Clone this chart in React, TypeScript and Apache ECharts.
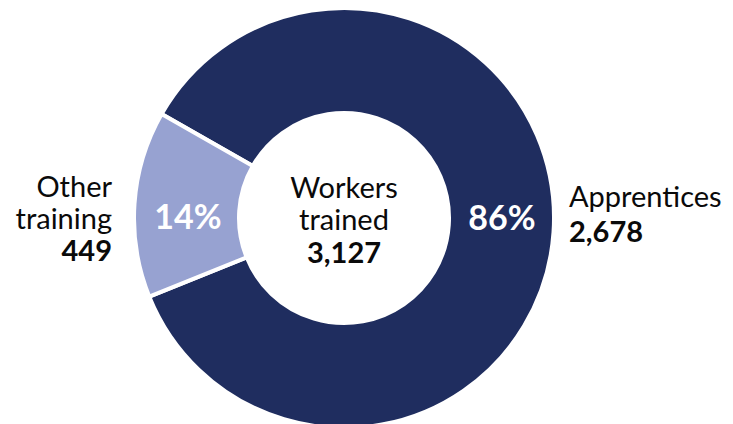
import React, { useEffect, useRef } from "react";
import * as echarts from "echarts";

const categories = ["Apprentices", "Other training"];
const labelLines = [["Apprentices"], ["Other", "training"]];
const values = [2678, 449];
const colors = ["#1F2D5F", "#97A2D1"];
const centerTitle = ["Workers", "trained"];

const FONT = "Lato, 'Open Sans', sans-serif";

export default function App() {
  const ref = useRef<HTMLDivElement>(null);
  useEffect(() => {
    document.body.style.margin = "0";
    const chart = echarts.init(ref.current!, null, { renderer: "svg" });
    const total = values.reduce((a, b) => a + b, 0);
    const fmt = (n: number) => n.toLocaleString("en-US");
    const pct = (n: number) => Math.round((n / total) * 100) + "%";
    const cx = 344;
    const cy = 218;

    const txt = (x: number, y: number, text: string, weight: number, size: number, align: string, fill = "#0a0a0a") => ({
      type: "text",
      x,
      y,
      z: 100,
      style: {
        text,
        font: `${weight} ${size}px ${FONT}`,
        fill,
        align,
        verticalAlign: "middle",
        lineHeight: 29,
      },
    });

    const graphic: any[] = [];
    centerTitle.forEach((t, i) => graphic.push(txt(cx, 186 + i * 32, t, 400, 29, "center")));
    graphic.push(txt(cx, 251, fmt(total), 700, 29, "center"));

    labelLines[0].forEach((t, i) => graphic.push(txt(569, 195 + i * 33, t, 400, 29, "left")));
    graphic.push(txt(569, 195 + labelLines[0].length * 35, fmt(values[0]), 700, 29, "left"));

    labelLines[1].forEach((t, i) => graphic.push(txt(112, 185 + i * 32, t, 400, 29, "right")));
    graphic.push(txt(112, 249, fmt(values[1]), 700, 29, "right"));

    graphic.push(txt(502, 216, pct(values[0]), 700, 34, "center", "#ffffff"));
    graphic.push(txt(188, 215, pct(values[1]), 700, 34, "center", "#ffffff"));

    chart.setOption({
      animation: false,
      backgroundColor: "#ffffff",
      series: [
        {
          type: "pie",
          z: 1,
          center: [cx, cy],
          radius: [105, 210],
          startAngle: 150.3,
          clockwise: true,
          label: { show: false },
          labelLine: { show: false },
          emphasis: { disabled: true },
          itemStyle: { borderColor: "#ffffff", borderWidth: 4 },
          data: categories.map((c, i) => ({ name: c, value: values[i], itemStyle: { color: colors[i] } })),
        },
      ],
      graphic: { elements: graphic },
    });
    return () => chart.dispose();
  }, []);
  return <div ref={ref} style={{ width: 733, height: 424 }} />;
}
